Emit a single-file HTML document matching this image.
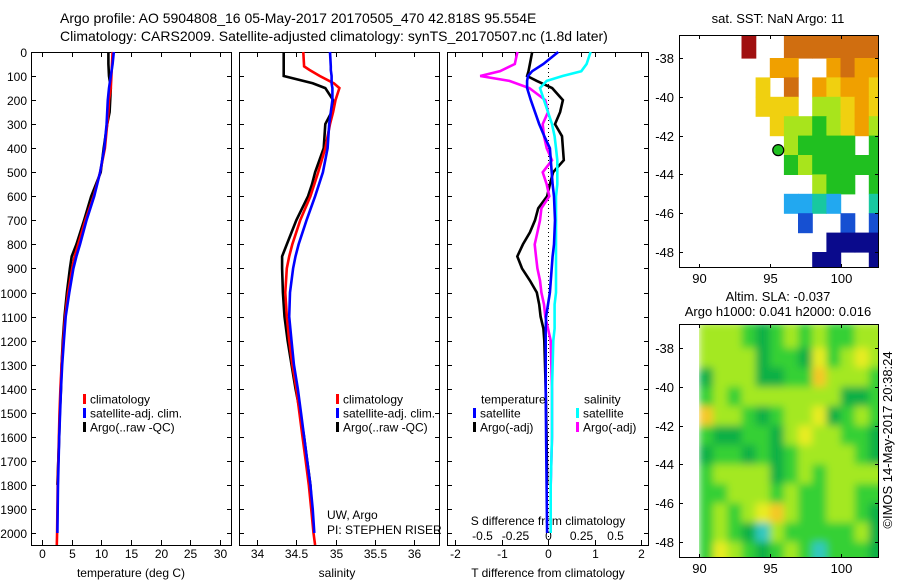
<!DOCTYPE html>
<html><head><meta charset="utf-8"><style>
html,body{margin:0;padding:0;background:#fff;}
svg{display:block;font-family:"Liberation Sans",sans-serif;}
text{fill:#000;}
</style></head><body>
<svg id="fig" width="900" height="580" viewBox="0 0 900 580" xmlns="http://www.w3.org/2000/svg">
<text x="60" y="23" font-size="14">Argo profile: AO 5904808_16 05-May-2017 20170505_470 42.818S 95.554E</text>
<text x="60" y="41" font-size="14">Climatology: CARS2009. Satellite-adjusted climatology: synTS_20170507.nc (1.8d later)</text>
<text x="778" y="23" font-size="13" text-anchor="middle">sat. SST: NaN Argo: 11</text>
<text x="778" y="301" font-size="13" text-anchor="middle">Altim. SLA: -0.037</text>
<text x="778" y="316" font-size="13" text-anchor="middle">Argo h1000: 0.041 h2000: 0.016</text>
<text x="0" y="0" font-size="13" text-anchor="middle" transform="translate(892,440) rotate(-90)">©IMOS 14-May-2017 20:38:24</text>
<text x="131" y="577" font-size="12" text-anchor="middle">temperature (deg C)</text>
<text x="337" y="577" font-size="12" text-anchor="middle">salinity</text>
<text x="548" y="577" font-size="12" text-anchor="middle">T difference from climatology</text>
<text x="548" y="525" font-size="12" text-anchor="middle">S difference from climatology</text>
<text x="327" y="519" font-size="12">UW, Argo</text>
<text x="327" y="534" font-size="12">PI: STEPHEN RISER</text>
</svg>
<script>
// ---------- data ----------
const depths = [0,50,100,150,200,250,300,400,500,600,700,800,850,900,1000,1100,1200,1300,1400,1500,1600,1700,1800,1900,2000,2050];
const tempClim = [11.9,11.8,11.7,11.6,11.3,11.2,11.0,10.6,9.8,8.7,7.3,6.1,5.5,5.1,4.4,3.9,3.6,3.3,3.1,2.95,2.85,2.75,2.65,2.6,2.55,2.5];
const tempSat  = [12.1,11.9,11.6,11.3,11.1,11.0,10.9,10.5,9.8,8.8,7.5,6.4,5.8,5.3,4.6,4.0,3.7,3.4,3.2,3.05,2.9,2.8,2.7,2.65,2.6,null];
const tempArgo = [11.2,11.2,11.3,11.6,11.5,11.4,11.0,10.4,9.9,8.3,7.1,5.8,5.0,4.7,4.2,3.8,3.5,3.3,3.2,3.0,2.9,2.75,2.6,null,null,null];
const salDepths = [0,60,75,100,130,150,200,250,300,400,500,550,600,700,800,850,900,1000,1100,1200,1300,1400,1500,1600,1700,1800,1900,2000,2050];
const salClim = [34.59,34.60,34.67,34.80,34.98,35.05,35.0,34.97,34.93,34.87,34.78,34.73,34.68,34.55,34.45,34.41,34.38,34.36,34.38,34.41,34.45,34.5,34.54,34.58,34.62,34.66,34.69,34.72,34.74];
const salSat  = [34.93,34.94,34.94,34.95,34.95,34.96,34.96,34.94,34.92,34.9,34.84,34.79,34.74,34.63,34.53,34.49,34.46,34.42,34.41,34.44,34.47,34.52,34.56,34.6,34.64,34.68,34.71,34.73,null];
const salArgo = [34.34,34.34,34.34,34.34,34.71,34.87,34.97,34.95,34.87,34.85,34.74,34.70,34.65,34.5,34.38,34.32,34.32,34.33,34.35,34.39,34.44,34.49,34.55,34.6,34.64,34.68,34.7,null,null];
const diffDepths = [0,50,80,100,120,150,200,250,300,350,400,450,500,550,600,650,700,750,800,850,900,950,1000,1050,1100,1150,1200,1400,1600,1800,2000];
const tDiffSat  = [0.22,-0.1,-0.34,-0.43,-0.45,-0.45,-0.37,-0.28,-0.19,-0.08,0.04,0.06,0.08,0.1,0.13,0.14,0.15,0.14,0.13,0.1,0.08,0.06,0.04,0.0,-0.04,-0.05,-0.05,-0.05,-0.04,-0.03,-0.02];
const tDiffArgo = [-0.34,-0.39,-0.42,-0.45,-0.24,0.09,0.32,0.26,0.15,0.3,0.32,0.34,0.11,0.04,-0.02,-0.21,-0.28,-0.39,-0.54,-0.66,-0.56,-0.39,-0.24,-0.19,-0.16,-0.1,-0.08,-0.05,-0.03,-0.02,null];
const sDiffSat  = [0.32,0.29,0.25,0.11,-0.01,-0.06,-0.03,0.0,0.03,0.05,0.06,0.07,0.07,0.07,0.06,0.06,0.06,0.06,0.06,0.06,0.06,0.06,0.06,0.05,0.05,0.05,0.04,0.03,0.03,0.02,0.02];
const sDiffArgo = [-0.23,-0.25,-0.36,-0.51,-0.29,-0.14,-0.02,0.0,-0.04,-0.03,-0.01,0.03,-0.04,-0.01,0.01,-0.05,-0.06,-0.08,-0.1,-0.09,-0.08,-0.06,-0.05,-0.03,-0.02,0.0,0.02,0.03,0.03,0.02,null];
const depthTicks = [0,100,200,300,400,500,600,700,800,900,1000,1100,1200,1300,1400,1500,1600,1700,1800,1900,2000];
const tempTicks = [0,5,10,15,20,25,30];
const salTicks = [34,34.5,35,35.5,36];
const tDiffTicks = [-2,-1,0,1,2];
const sDiffTicks = [-0.5,-0.25,0,0.25,0.5];
const sDiffTickLabels = ["-0.5","-0.25","0","0.25","0.5"];
// SST map: rows lat -37..-49 (1 deg), cols lon 89..102 ('.' = no data, 0-9 level)
const sstRows = ["....9..8888888","......77..7877",".....6.8.76776",".....666.55676","......65545675",".......54444.4",".......4544444",".........544.4",".......2232..3","........1..1.1","..........0000",".........00..0"];
const argoLon = 95.6, argoLat = -42.75;
// Altimetry SLA map: rows lat -37..-49, cols lon 90..102, level 0-5
const slaRows = ["3332123232233","3333122142343","1333112253332","2323333333112","5332123341232","2112213433221","1221212333321","2333312323333","2233323223322","2323453223321","2321032222231","2432123202221"];
const mapLatTicks = [-38,-40,-42,-44,-46,-48];
const mapLonTicks = [90,95,100];

// ---------- helpers ----------
const NS = "http://www.w3.org/2000/svg";
const svg = document.getElementById('fig');
function mk(tag, attrs, parent){ const e=document.createElementNS(NS,tag); for(const k in attrs) e.setAttribute(k,attrs[k]); (parent||svg).appendChild(e); return e; }
const TOP=52, BOT=545;
const yD = d => TOP + d*0.2405;

function panel(name, x0, x1, xs, ticks, labels, tickLabelY, drawY){
  const g = mk('g',{});
  
  
  const f = mk('rect',{x:x0+0.5,y:TOP+0.5,width:x1-x0,height:BOT-TOP,fill:'none',stroke:'#000','stroke-width':1},g);
  
  
  depthTicks.forEach(d=>{
    const y=Math.round(yD(d))+0.5;
    mk('line',{x1:x0,x2:x0+5,y1:y,y2:y,stroke:'#000'},g);
    mk('line',{x1:x1-4,x2:x1+1,y1:y,y2:y,stroke:'#000'},g);
    if(drawY){ const t=mk('text',{x:27,y:y+4.5,'font-size':12,'text-anchor':'end'},g); t.textContent=d;
        }
  });
  if(ticks){ ticks.forEach((v,i)=>{
    const x=Math.round(xs(v))+0.5;
    mk('line',{x1:x,x2:x,y1:BOT,y2:BOT-5,stroke:'#000'},g);
    mk('line',{x1:x,x2:x,y1:TOP,y2:TOP+5,stroke:'#000'},g);
    const t=mk('text',{x:x,y:tickLabelY,'font-size':12,'text-anchor':'middle'},g); t.textContent=labels[i];
     
  });}
  return g;
}
function line(g, name, xs, ds, vals, color){
  let pts=[];
  vals.forEach((v,i)=>{ if(v!==null) pts.push(xs(v).toFixed(1)+','+yD(ds[i]).toFixed(1)); });
  const p=mk('polyline',{points:pts.join(' '),fill:'none',stroke:color,'stroke-width':2.6,'stroke-linejoin':'miter'},g);
  
  
}
function legend(g, x, y, color, label, name){
  mk('rect',{x:x,y:y-5,width:3,height:10,fill:color},g);
  const t=mk('text',{x:x+7,y:y+4.5,'font-size':12},g); t.textContent=label;
  
  
}

// ---------- temperature panel ----------
const xT = v => 42 + v*5.93;
const g1 = panel('temperature-panel',31,231,xT,tempTicks,tempTicks.map(String),558,true);
line(g1,'temp-argo-line',xT,depths,tempArgo,'#000');
line(g1,'temp-climatology-line',xT,depths,tempClim,'#f00');
line(g1,'temp-satellite-line',xT,depths,tempSat,'#00f');
legend(g1,83,399,'#f00','climatology','legend-climatology');
legend(g1,83,413,'#00f','satellite-adj. clim.','legend-satellite');
legend(g1,83,427,'#000','Argo(..raw -QC)','legend-argo');

// ---------- salinity panel ----------
const xS = v => 257 + (v-34)*78.5;
const g2 = panel('salinity-panel',239,439,xS,salTicks,salTicks.map(String),558,false);
line(g2,'sal-argo-line',xS,salDepths,salArgo,'#000');
line(g2,'sal-climatology-line',xS,salDepths,salClim,'#f00');
line(g2,'sal-satellite-line',xS,salDepths,salSat,'#00f');
legend(g2,336,399,'#f00','climatology','legend-climatology-sal');
legend(g2,336,413,'#00f','satellite-adj. clim.','legend-satellite-sal');
legend(g2,336,427,'#000','Argo(..raw -QC)','legend-argo-sal');

// ---------- difference panel ----------
const xTD = v => 548 + v*46.5;
const xSD = v => 548 + v*133;
const g3 = panel('difference-panel',447,648,xTD,tDiffTicks,tDiffTicks.map(String),558,false);
sDiffTicks.forEach((v,i)=>{
  const x=Math.round(xSD(v))+0.5;
  mk('line',{x1:x,x2:x,y1:TOP,y2:TOP+5,stroke:'#000'},g3);
  const t=mk('text',{x:x,y:540,'font-size':12,'text-anchor':'middle'},g3); t.textContent=sDiffTickLabels[i];
   
});
const zl=mk('line',{x1:548.5,x2:548.5,y1:TOP,y2:BOT,stroke:'#000','stroke-dasharray':'1,3'},g3);
 
line(g3,'tdiff-argo-line',xTD,diffDepths,tDiffArgo,'#000');
line(g3,'sdiff-argo-line',xSD,diffDepths,sDiffArgo,'#f0f');
line(g3,'sdiff-satellite-line',xSD,diffDepths,sDiffSat,'#0ff');
line(g3,'tdiff-satellite-line',xTD,diffDepths,tDiffSat,'#00f');
const lt=mk('text',{x:481,y:403.5,'font-size':12},g3); lt.textContent='temperature';
 
const ls=mk('text',{x:584,y:403.5,'font-size':12},g3); ls.textContent='salinity';
 
legend(g3,473,413,'#00f','satellite','legend-t-satellite');
legend(g3,473,427,'#000','Argo(-adj)','legend-t-argo');
legend(g3,576,413,'#0ff','satellite','legend-s-satellite');
legend(g3,576,427,'#f0f','Argo(-adj)','legend-s-argo');

// ---------- maps ----------
const sstColors=['#0a0a8c','#1650d2','#22a8f0','#18c8a0','#20c020','#a8e41c','#f0d010','#f0a000','#d06e10','#a01010'];
const slaColors=['#30c8c0','#10b044','#34d034','#a4e820','#e8ec20','#f4c828'];
function drawMap(name, top, bot, rows, colors, lon0, blur){
  const L=679, R=878;
  const y38 = (name==='sst-map'? 58:348);
  const lx = lon => 699 + (lon-90)*14.15;
  const ly = lat => y38 + (-38-lat)*19.4;
  const g=mk('g',{});
  
  
  const cid=name+'-clip';
  const cp=mk('clipPath',{id:cid},g); mk('rect',{x:L,y:top,width:R-L,height:bot-top},cp);
  const cells=mk('g',{'clip-path':'url(#'+cid+')'},g);
  let inner=cells;
  if(blur){ const fl=mk('filter',{id:name+'-blur',x:'-5%',y:'-5%',width:'110%',height:'110%'},g); mk('feGaussianBlur',{stdDeviation:4},fl);
    inner=mk('g',{filter:'url(#'+name+'-blur)'},cells); }
  rows.forEach((row,r)=>{
    for(let c=0;c<row.length;c++){
      const ch=row[c]; if(ch==='.') continue;
      const lon=lon0+c, lat=-37-r;
      let x=lx(lon), y=ly(lat);
      let w=14.15, h=19.4;
      if(r===0){ y-=6; h+=6; }
      if(r===rows.length-1){ h+=4; }
      if(c===row.length-1){ w+=4; }
      const rc=mk('rect',{x:x.toFixed(1),y:y.toFixed(1),width:(w+0.6).toFixed(1),height:(h+0.6).toFixed(1),fill:colors[+ch]},inner);
      
      
    }
  });
  if(blur){ mk('rect',{x:L,y:top,width:699-L,height:bot-top,fill:'#fff'},cells); }
  const fr=mk('rect',{x:L+0.5,y:top+0.5,width:R-L,height:bot-top,fill:'none',stroke:'#000'},g);
   
  mapLatTicks.forEach(v=>{
    const y=Math.round(ly(v))+0.5;
    mk('line',{x1:L,x2:L+4,y1:y,y2:y,stroke:'#000'},g);
    mk('line',{x1:R-3,x2:R+1,y1:y,y2:y,stroke:'#000'},g);
    const t=mk('text',{x:674,y:y+4.5,'font-size':13,'text-anchor':'end'},g); t.textContent=v;
     
  });
  mapLonTicks.forEach(v=>{
    const x=Math.round(lx(v))+0.5;
    mk('line',{x1:x,x2:x,y1:top,y2:top+4,stroke:'#000'},g);
    mk('line',{x1:x,x2:x,y1:bot-3,y2:bot+1,stroke:'#000'},g);
    const t=mk('text',{x:x,y:bot+16,'font-size':13,'text-anchor':'middle'},g); t.textContent=v;
     
  });
  return {g,lx,ly};
}
const sst=drawMap('sst-map',35,267,sstRows,sstColors,89,false);
const dot=mk('circle',{cx:sst.lx(argoLon),cy:sst.ly(argoLat),r:5.5,fill:'#20c020',stroke:'#000','stroke-width':1.2},sst.g);


drawMap('altimetry-map',324,557,slaRows,slaColors,90,true);
</script>
</body></html>
